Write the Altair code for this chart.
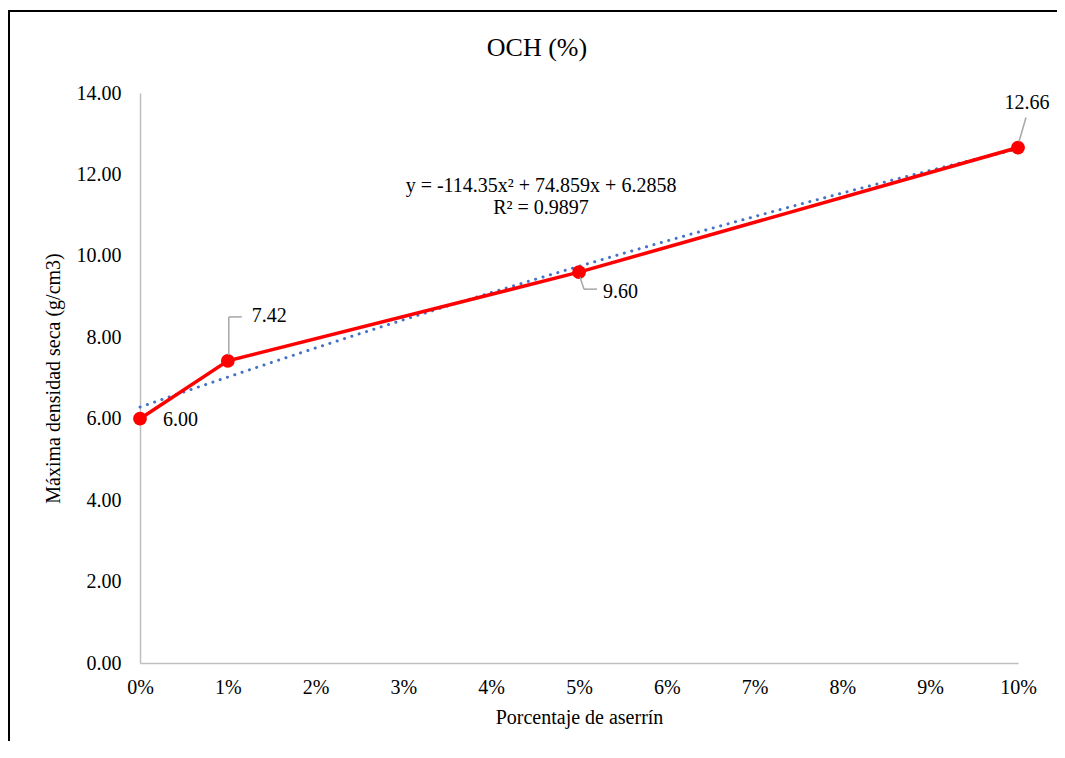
import altair as alt
import pandas as pd

# data
pct = [0.0, 0.01, 0.05, 0.10]
dens = [6.00, 7.42, 9.60, 12.66]
labels = ["6.00", "7.42", "9.60", "12.66"]
x_ticks = [0.0, 0.01, 0.02, 0.03, 0.04, 0.05, 0.06, 0.07, 0.08, 0.09, 0.10]
y_ticks = [0, 2, 4, 6, 8, 10, 12, 14]
eq_lines = ["y = -114.35x² + 74.859x + 6.2858", "R² = 0.9897"]
title_text = "OCH (%)"

df = pd.DataFrame({"x": pct, "y": dens, "lab": labels, "i": list(range(len(pct)))})

FONT = "Liberation Serif, Times New Roman, serif"
RED = "#FF0000"
BLUE = "#4472C4"
GREY = "#A6A6A6"

axis_common = dict(grid=False, ticks=False, domainColor="#BFBFBF", domainWidth=1.5,
                   labelFlush=False, labelFont=FONT, labelFontSize=20, labelColor="black",
                   titleFont=FONT, titleFontSize=20, titleColor="black", titleFontWeight="normal")

xs = alt.X("x:Q", scale=alt.Scale(domain=[0, 0.1], nice=False),
           axis=alt.Axis(values=x_ticks, format=".0%", title="Porcentaje de aserrín",
                         labelPadding=14, titlePadding=10, **axis_common))
ys = alt.Y("y:Q", scale=alt.Scale(domain=[0, 14], nice=False),
           axis=alt.Axis(values=y_ticks, format=".2f", title="Máxima densidad seca (g/cm3)",
                         labelPadding=19, titlePadding=13, **axis_common))

base = alt.Chart(df)

border = base.mark_rect(fill=None, stroke="black", strokeWidth=2, clip=False).encode(
    x=alt.value(-131), x2=alt.value(930), y=alt.value(-82), y2=alt.value(700))

title = alt.Chart(pd.DataFrame({"a": [0]})).mark_text(
    font=FONT, fontSize=26, color="black", align="center", baseline="middle"
).encode(x=alt.value(397), y=alt.value(-45), text=alt.value(title_text))

trend = base.transform_regression("x", "y", method="poly", order=2, extent=[0, 0.1]).mark_line(
    color=BLUE, strokeWidth=3, strokeDash=[0.1, 7.6], strokeCap="round").encode(x=xs, y=ys)

line = base.mark_line(color=RED, strokeWidth=3.5).encode(x=xs, y=ys)
pts = base.mark_circle(color=RED, size=190, opacity=1).encode(x=xs, y=ys)


def sel(i):
    return base.transform_filter(alt.datum.i == i)


def rule(i, xo, yo, x2o, y2o):
    return sel(i).mark_rule(color=GREY, strokeWidth=1.5, xOffset=xo, yOffset=yo,
                            x2Offset=x2o, y2Offset=y2o).encode(x="x:Q", x2="x:Q", y="y:Q", y2="y:Q")


rules = [
    rule(1, 1, -6, 1, -44),
    rule(1, 1, -44, 14, -44),
    rule(2, 1, 5, 5, 17),
    rule(2, 5, 17, 18, 17),
    rule(3, 1, -6, 8, -30),
]

tstyle = dict(font=FONT, fontSize=20, color="black", baseline="middle")
texts = [
    sel(0).mark_text(align="left", dx=23, dy=1, **tstyle).encode(x="x:Q", y="y:Q", text="lab:N"),
    sel(1).mark_text(align="left", dx=24, dy=-45, **tstyle).encode(x="x:Q", y="y:Q", text="lab:N"),
    sel(2).mark_text(align="left", dx=24, dy=20, **tstyle).encode(x="x:Q", y="y:Q", text="lab:N"),
    sel(3).mark_text(align="center", dx=9, dy=-45, **tstyle).encode(x="x:Q", y="y:Q", text="lab:N"),
]

eq = alt.Chart(pd.DataFrame({"a": [0]})).mark_text(
    font=FONT, fontSize=20, color="black", align="center", baseline="middle", lineHeight=22
).encode(x=alt.value(401), y=alt.value(93), text=alt.value(eq_lines))

chart = alt.layer(border, title, trend, line, pts, *rules, *texts, eq).properties(
    width=878, height=570,
    autosize=alt.AutoSizeParams(type="none"),
    padding={"left": 132, "top": 85, "right": 39, "bottom": 78},
    background="white",
).configure_view(stroke=None)

chart.save("out.html", embed_options={"renderer": "svg", "actions": False})
